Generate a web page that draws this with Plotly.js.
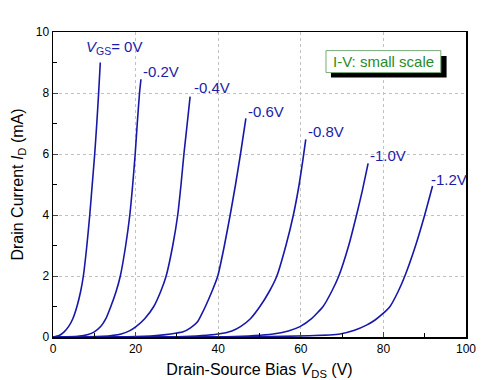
<!DOCTYPE html>
<html>
<head>
<meta charset="utf-8">
<script src="https://cdn.plot.ly/plotly-3.0.1.min.js"></script>
<style>html,body{margin:0;padding:0;background:#fff}#chart{width:483px;height:380px}</style>
</head>
<body>
<div id="chart"></div>
<script>
// Curves: drain-source bias (V) and drain current (mA)
const x_0V   = [0, 1.5, 2.7, 3.8, 4.8, 5.8, 6.7, 7.35, 8.2, 8.9, 9.5, 10.1, 10.6, 11.05, 11.45];
const y_0V   = [0, 0.05, 0.17, 0.35, 0.6, 1.0, 1.5, 2.0, 3.0, 4.0, 5.0, 6.0, 7.0, 8.0, 9.0];
const x_m02V = [0, 6, 8.5, 10.0, 11.6, 12.8, 14.0, 15.3, 16.3, 17.6, 18.6, 19.3, 19.9, 20.4, 20.95, 21.3];
const y_m02V = [0, 0.02, 0.08, 0.17, 0.35, 0.6, 1.0, 1.5, 2.0, 3.0, 4.0, 5.0, 6.0, 7.0, 8.0, 8.45];
const x_m04V = [0, 12, 16.5, 18.5, 20.1, 22.2, 24.4, 26.1, 27.4, 29.0, 30.2, 31.0, 31.7, 32.5, 33.2];
const y_m04V = [0, 0.02, 0.1, 0.2, 0.34, 0.6, 1.0, 1.5, 2.0, 3.0, 4.0, 5.0, 6.0, 7.0, 7.88];
const x_m06V = [0, 18, 25, 28.5, 31.5, 33.3, 35.0, 36.0, 36.9, 38.5, 39.9, 41.5, 42.9, 44.2, 45.4, 46.7];
const y_m06V = [0, 0.01, 0.05, 0.1, 0.17, 0.3, 0.5, 0.75, 1.0, 1.5, 2.0, 3.0, 4.0, 5.0, 6.0, 7.17];
const x_m08V = [0, 30, 40, 43.3, 45.4, 47.8, 50.1, 52.4, 54.2, 56.4, 58.2, 59.6, 60.5, 61.2];
const y_m08V = [0, 0.01, 0.1, 0.2, 0.34, 0.6, 1.0, 1.5, 2.0, 3.0, 4.0, 5.0, 5.8, 6.48];
const x_m10V = [0, 42, 53.3, 57.0, 59.8, 62.6, 65.4, 67.5, 69.2, 71.6, 73.5, 74.9, 76.3];
const y_m10V = [0, 0.01, 0.1, 0.2, 0.34, 0.6, 1.0, 1.5, 2.0, 3.0, 4.0, 4.8, 5.69];
const x_m12V = [0, 50, 62, 69.5, 73, 75.9, 77.9, 80, 81.6, 83.6, 85.2, 87.8, 90.0, 91.9];
const y_m12V = [0, 0.01, 0.04, 0.1, 0.22, 0.39, 0.55, 0.78, 1.0, 1.5, 2.0, 3.0, 4.0, 4.95];

// Curve labels and where they sit (data coords of left/middle)
const labelText = ['<i>V</i><sub>GS</sub>= 0V', '-0.2V', '-0.4V', '-0.6V', '-0.8V', '-1.0V', '-1.2V'];
const labelX = [7.5, 21.2, 33.6, 46.7, 61.3, 76.3, 91.0];
const labelY = [9.5, 8.69, 8.17, 7.41, 6.75, 5.96, 5.18];

const boxText = 'I-V: small scale';

const xs = [x_0V, x_m02V, x_m04V, x_m06V, x_m08V, x_m10V, x_m12V];
const ys = [y_0V, y_m02V, y_m04V, y_m06V, y_m08V, y_m10V, y_m12V];

const lineColor = 'rgb(24,24,168)';
const traces = xs.map((x, i) => ({
  x: x, y: ys[i], type: 'scatter', mode: 'lines',
  line: {color: lineColor, width: 1.6, shape: 'spline', smoothing: 0.5},
  showlegend: false, hoverinfo: 'skip'
}));

const font = 'Arial, "Liberation Sans", Helvetica, sans-serif';

const annotations = labelText.map((t, i) => ({
  x: labelX[i], y: labelY[i], xref: 'x', yref: 'y', text: t,
  showarrow: false, xanchor: 'left', yanchor: 'middle',
  font: {family: font, size: 15, color: 'rgb(28,28,170)'}
}));
annotations.push({
  x: 80.0, y: 9.03, xref: 'x', yref: 'y', text: boxText, showarrow: false,
  xanchor: 'center', yanchor: 'middle',
  font: {family: font, size: 15, color: 'rgb(40,140,40)'}
});

const layout = {
  width: 483, height: 380,
  margin: {l: 53, r: 17, t: 32, b: 43},
  paper_bgcolor: '#fff', plot_bgcolor: '#fff',
  font: {family: font, size: 12, color: '#000'},
  xaxis: {
    range: [0, 100], dtick: 20, tick0: 0, ticks: 'inside', ticklen: 5, tickwidth: 1,
    showline: true, linecolor: '#000', linewidth: 1.5, mirror: true,
    showgrid: true, gridcolor: '#c0c0c0', griddash: 'dot', gridwidth: 1,
    zeroline: false, tickfont: {family: font, size: 12, color: '#000'},
    minor: {dtick: 10, ticks: 'inside', ticklen: 4, tickcolor: '#000', showgrid: false},
    title: {text: 'Drain-Source Bias <i>V</i><sub>DS</sub> (V)', font: {family: font, size: 16}, standoff: 13},
    automargin: false
  },
  yaxis: {
    range: [0, 10], dtick: 2, tick0: 0, ticks: 'inside', ticklen: 5, tickwidth: 1,
    showline: true, linecolor: '#000', linewidth: 1.5, mirror: true,
    showgrid: true, gridcolor: '#c0c0c0', griddash: 'dot', gridwidth: 1,
    zeroline: false, tickfont: {family: font, size: 12, color: '#000'},
    minor: {dtick: 1, ticks: 'inside', ticklen: 4, tickcolor: '#000', showgrid: false},
    title: {text: 'Drain Current <i>I</i><sub>D</sub> (mA)', font: {family: font, size: 16}, standoff: 8},
    automargin: false
  },
  shapes: [
    {type: 'rect', xref: 'x', yref: 'y', x0: 67.3, x1: 95.3, y0: 8.51, y1: 9.21,
     fillcolor: '#000', line: {width: 0}, layer: 'above'},
    {type: 'rect', xref: 'x', yref: 'y', x0: 66.1, x1: 93.9, y0: 8.67, y1: 9.39,
     fillcolor: '#fff', line: {color: 'rgb(120,170,120)', width: 1}, layer: 'above'}
  ],
  annotations: annotations
};

Plotly.newPlot('chart', traces, layout, {staticPlot: true, displayModeBar: false});
</script>
</body>
</html>
